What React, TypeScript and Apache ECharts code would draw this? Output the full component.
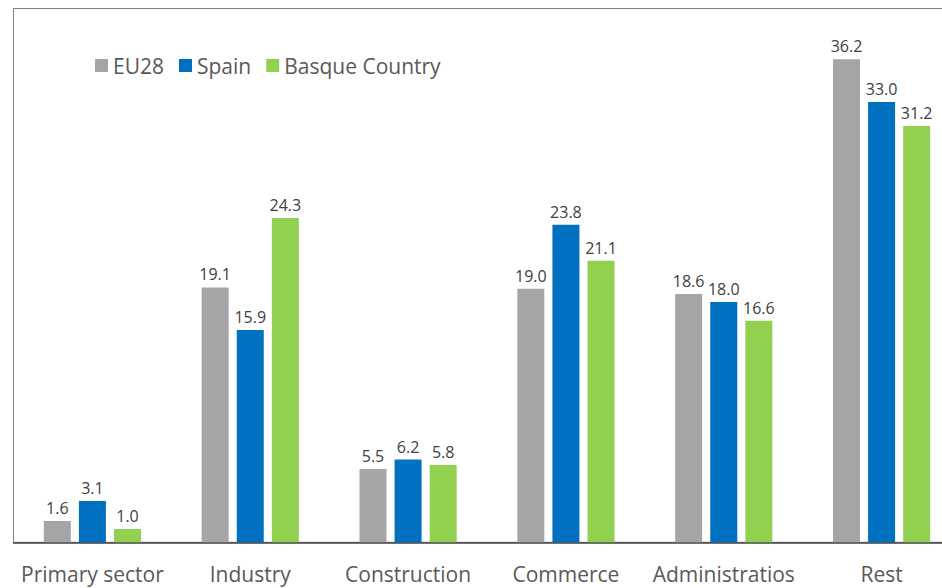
import React, { useEffect, useRef } from "react";
import * as echarts from "echarts";

const categories = ["Primary sector", "Industry", "Construction", "Commerce", "Administratios", "Rest"];
const eu28 = [1.6, 19.1, 5.5, 19.0, 18.6, 36.2];
const spain = [3.1, 15.9, 6.2, 23.8, 18.0, 33.0];
const basque = [1.0, 24.3, 5.8, 21.1, 16.6, 31.2];

const FONT = "'Open Sans', 'Noto Sans', sans-serif";

export default function App() {
  const ref = useRef<HTMLDivElement>(null);
  useEffect(() => {
    const chart = echarts.init(ref.current!, null, { renderer: "svg" });
    const label = {
      show: true,
      position: "top",
      distance: 5,
      color: "#404040",
      fontSize: 16,
      fontFamily: FONT,
      formatter: (p: any) => Number(p.value).toFixed(1),
    };
    const mk = (name: string, data: number[], color: string) => ({
      name,
      type: "bar",
      data,
      barWidth: 27,
      barGap: "30%",
      itemStyle: { color },
      label,
    });
    chart.setOption({
      animation: false,
      backgroundColor: "#ffffff",
      textStyle: { fontFamily: FONT },
      legend: {
        left: 90,
        top: 50,
        itemWidth: 13,
        itemHeight: 13,
        itemGap: 15,
        icon: "rect",
        textStyle: { fontSize: 21, color: "#595959", fontFamily: FONT },
        data: ["EU28", "Spain", "Basque Country"],
      },
      grid: {
        left: 13.5,
        top: 8.5,
        width: 947,
        bottom: 45.7,
        show: true,
        borderColor: "#7f7f7f",
        borderWidth: 1,
        containLabel: false,
      },
      xAxis: {
        type: "category",
        data: categories,
        axisLine: { lineStyle: { color: "#404040", width: 1.5 } },
        axisTick: { show: false },
        axisLabel: { fontSize: 21, color: "#595959", margin: 21, fontFamily: FONT, interval: 0 },
      },
      yAxis: {
        type: "value",
        min: 0,
        max: 40,
        axisLine: { show: false },
        axisTick: { show: false },
        axisLabel: { show: false },
        splitLine: { show: false },
      },
      series: [
        mk("EU28", eu28, "#a5a5a5"),
        mk("Spain", spain, "#0070c0"),
        mk("Basque Country", basque, "#92d050"),
      ],
    });
    return () => chart.dispose();
  }, []);
  return (
    <div style={{ width: 942, height: 588, position: "absolute", left: 0, top: 0, overflow: "hidden" }}>
      <div ref={ref} style={{ width: 990, height: 588 }} />
    </div>
  );
}
